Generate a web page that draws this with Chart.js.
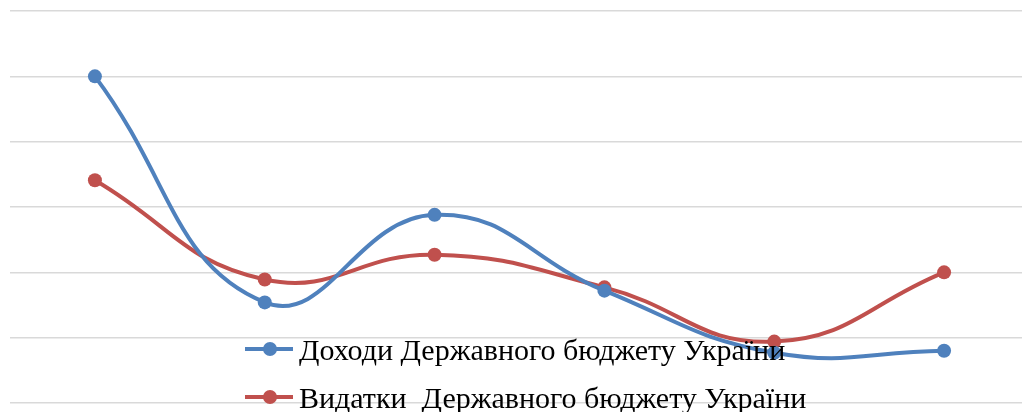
<!DOCTYPE html>
<html>
<head>
<meta charset="utf-8">
<script src="https://cdn.jsdelivr.net/npm/chart.js@4/dist/chart.umd.min.js"></script>
<style>
html,body{margin:0;padding:0;background:#fff;overflow:hidden;width:1022px;height:412px;}
#wrap{position:absolute;left:0;top:0;width:1036px;height:412px;}
</style>
</head>
<body>
<div id="wrap"><canvas id="c" width="1036" height="412"></canvas></div>
<script>
const categories = ['1', '2', '3', '4', '5', '6'];
const incomeLabel = 'Доходи Державного бюджету України';
const expenseLabel = 'Видатки  Державного бюджету України';
const income = [50.0, 15.4, 28.8, 17.2, 7.7, 8.0];
const expenses = [34.1, 18.9, 22.7, 17.7, 9.4, 20.0];
const yMin = 0, yMax = 60, yStep = 10;

const legendPlugin = {
  id: 'overlayLegend',
  afterDraw(chart) {
    const ctx = chart.ctx;
    ctx.save();
    chart.data.datasets.forEach((ds, i) => {
      const y = 349 + i * 48;
      ctx.strokeStyle = ds.borderColor;
      ctx.lineWidth = 4;
      ctx.beginPath();
      ctx.moveTo(245, y);
      ctx.lineTo(293, y);
      ctx.stroke();
      ctx.fillStyle = ds.borderColor;
      ctx.beginPath();
      ctx.arc(270, y, 7, 0, Math.PI * 2);
      ctx.fill();
      ctx.fillStyle = '#000';
      ctx.font = '30px "Liberation Serif", "Times New Roman", serif';
      ctx.textBaseline = 'middle';
      ctx.textAlign = 'left';
      ctx.fillText(ds.label, 299, y + 3);
    });
    ctx.restore();
  }
};

new Chart(document.getElementById('c'), {
  type: 'line',
  data: {
    labels: categories,
    datasets: [
      {label: incomeLabel, data: income, borderColor: '#4F81BD', backgroundColor: '#4F81BD',
       borderWidth: 4, pointRadius: 7, pointBorderWidth: 0, tension: 0.45},
      {label: expenseLabel, data: expenses, borderColor: '#C0504D', backgroundColor: '#C0504D',
       borderWidth: 4, pointRadius: 7, pointBorderWidth: 0, tension: 0.45}
    ]
  },
  options: {
    responsive: false,
    devicePixelRatio: 1,
    animation: false,
    layout: {padding: {left: 10, right: 0, top: 11, bottom: 1}},
    plugins: {legend: {display: false}, tooltip: {enabled: false}},
    scales: {
      x: {offset: true, grid: {display: false}, border: {display: false}, ticks: {display: false}},
      y: {min: yMin, max: yMax, ticks: {display: false, stepSize: yStep},
          grid: {color: '#d9d9d9', lineWidth: 1.5, drawTicks: false},
          border: {display: false}}
    }
  },
  plugins: [legendPlugin]
});
</script>
</body>
</html>
